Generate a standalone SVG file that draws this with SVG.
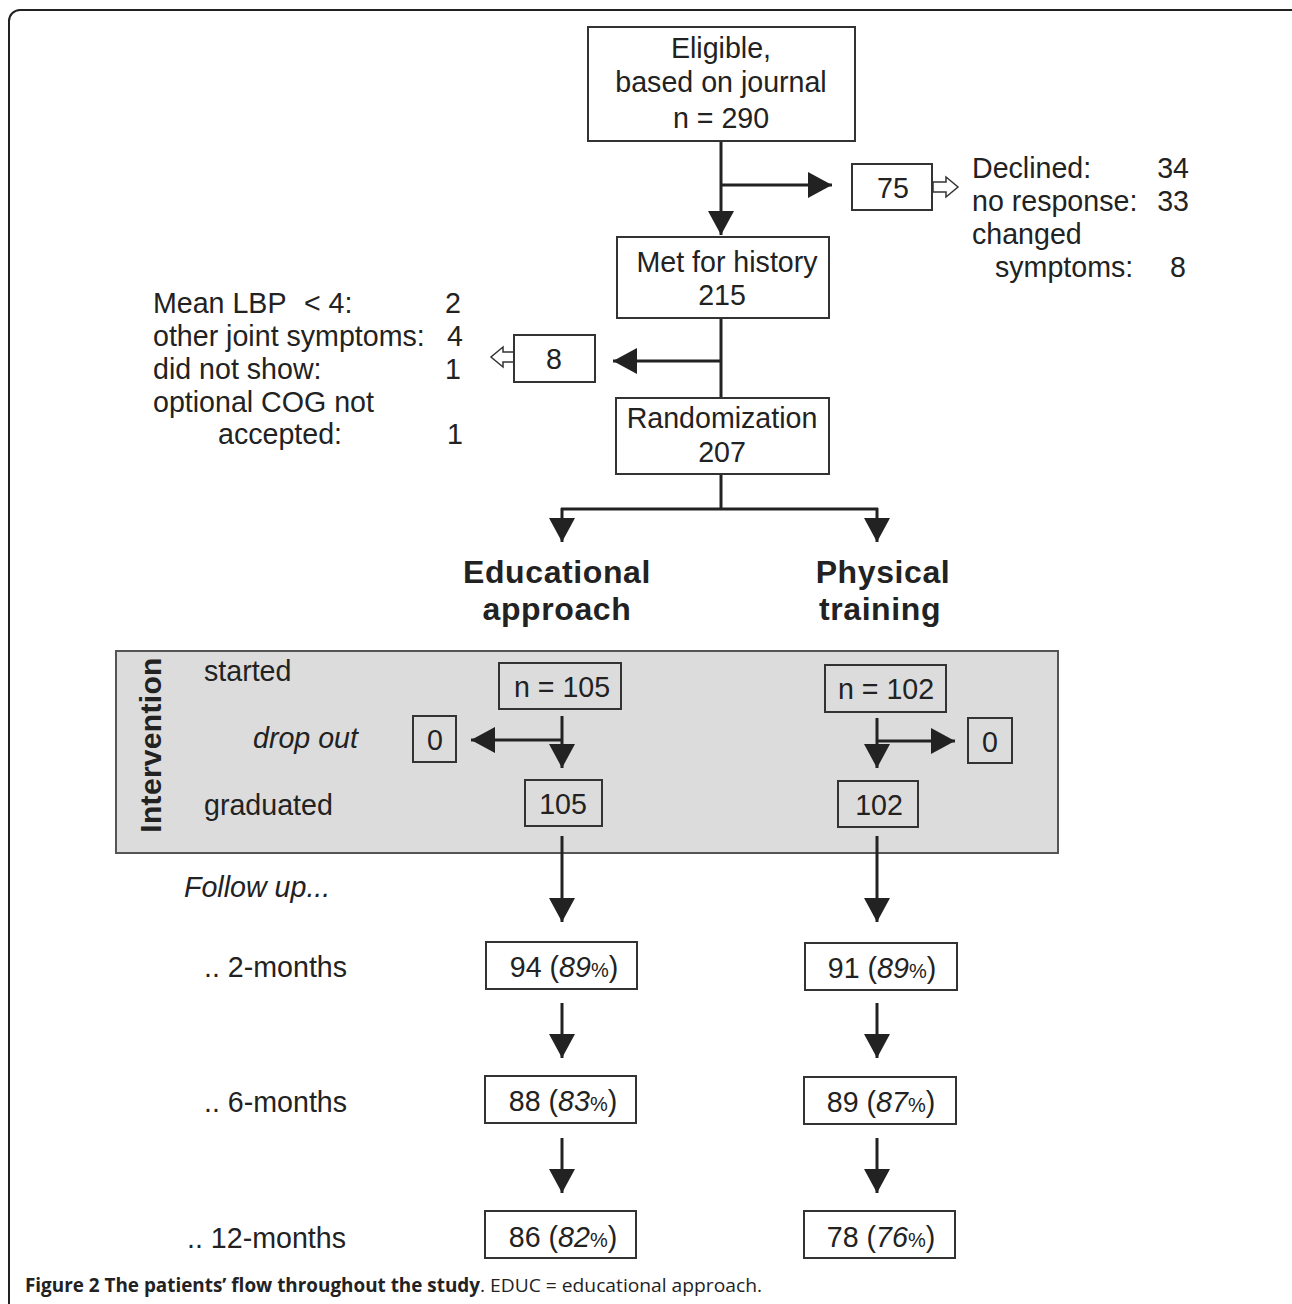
<svg xmlns="http://www.w3.org/2000/svg" width="1292" height="1304" viewBox="0 0 1292 1304">
<defs>
<marker id="ah" viewBox="0 0 24 26" refX="24" refY="13" markerWidth="24" markerHeight="26" markerUnits="userSpaceOnUse" orient="auto">
<path d="M0,0 L24,13 L0,26 z" fill="#222"/>
</marker>
</defs>
<style>
.t{font-family:"Liberation Sans",Arial,sans-serif;font-size:28.6px;fill:#222}
.m{text-anchor:middle}
.e{text-anchor:end}
.i{font-style:italic}
.b{font-family:"Liberation Sans",Arial,sans-serif;font-weight:bold;font-size:32px;fill:#222;letter-spacing:0.6px;text-anchor:middle}
.box{fill:#fff;stroke:#333;stroke-width:2}
.gbox{fill:none;stroke:#333;stroke-width:2}
.ln{fill:none;stroke:#222;stroke-width:3}
.arr{fill:none;stroke:#222;stroke-width:3;marker-end:url(#ah)}
.hol{fill:#fff;stroke:#333;stroke-width:1.5}
.pc{font-size:20px;font-style:normal}
.cap{font-family:"Open Sans","Liberation Sans",sans-serif;font-size:19px;fill:#222}
</style>
<rect x="9" y="10" width="1300" height="1320" rx="11" fill="#fff" stroke="#222" stroke-width="2"/>

<g id="panel">
<rect x="116" y="651" width="942" height="202" fill="#dcdcdc" stroke="#555" stroke-width="2"/>
<text class="b" transform="translate(161,745) rotate(-90)" style="font-size:30px;letter-spacing:0.3px">Intervention</text>
<text class="t" x="204" y="681">started</text>
<text class="t i" x="253" y="748">drop out</text>
<text class="t" x="204" y="815">graduated</text>
</g>

<g id="connectors">
<line class="arr" x1="721" y1="141" x2="721" y2="235"/>
<line class="arr" x1="721" y1="185" x2="832" y2="185"/>
<line class="ln" x1="721" y1="318" x2="721" y2="398"/>
<line class="arr" x1="721" y1="361" x2="613" y2="361"/>
<line class="ln" x1="721" y1="474" x2="721" y2="509"/>
<line class="ln" x1="561" y1="509" x2="878" y2="509"/>
<line class="arr" x1="562" y1="508" x2="562" y2="542"/>
<line class="arr" x1="877" y1="508" x2="877" y2="542"/>
<line class="arr" x1="562" y1="716" x2="562" y2="768"/>
<line class="arr" x1="562" y1="740" x2="471" y2="740"/>
<line class="arr" x1="877" y1="718" x2="877" y2="768"/>
<line class="arr" x1="877" y1="741" x2="955" y2="741"/>
<line class="arr" x1="562" y1="836" x2="562" y2="922"/>
<line class="arr" x1="877" y1="836" x2="877" y2="922"/>
<line class="arr" x1="562" y1="1003" x2="562" y2="1058"/>
<line class="arr" x1="877" y1="1003" x2="877" y2="1058"/>
<line class="arr" x1="562" y1="1138" x2="562" y2="1193"/>
<line class="arr" x1="877" y1="1138" x2="877" y2="1193"/>
<polygon class="hol" points="933,182 946,182 946,177 958,187 946,197 946,192 933,192"/>
<polygon class="hol" points="514,352 503,352 503,347 491,357 503,367 503,362 514,362"/>
</g>

<g id="eligible">
<rect class="box" x="588" y="27" width="267" height="114"/>
<text class="t m" x="721" y="58">Eligible,</text>
<text class="t m" x="721" y="92">based on journal</text>
<text class="t m" x="721" y="128">n = 290</text>
</g>

<g id="excluded75">
<rect class="box" x="852" y="164" width="80" height="46"/>
<text class="t m" x="893" y="198">75</text>
</g>

<g id="reasons75">
<text class="t" x="972" y="178">Declined:</text>
<text class="t e" x="1189" y="178">34</text>
<text class="t" x="972" y="211">no response:</text>
<text class="t e" x="1189" y="211">33</text>
<text class="t" x="972" y="244">changed</text>
<text class="t" x="995" y="277">symptoms:</text>
<text class="t e" x="1186" y="277">8</text>
</g>

<g id="history">
<rect class="box" x="617" y="237" width="212" height="81"/>
<text class="t m" x="727" y="272">Met for history</text>
<text class="t m" x="722" y="305">215</text>
</g>

<g id="excluded8">
<rect class="box" x="514" y="335" width="81" height="47"/>
<text class="t m" x="554" y="369">8</text>
</g>

<g id="reasons8">
<text class="t" x="153" y="313">Mean LBP <tspan dx="10">&lt; 4:</tspan></text>
<text class="t e" x="461" y="313">2</text>
<text class="t" x="153" y="346">other joint symptoms:</text>
<text class="t e" x="463" y="346">4</text>
<text class="t" x="153" y="379">did not show:</text>
<text class="t e" x="461" y="379">1</text>
<text class="t" x="153" y="412">optional COG not</text>
<text class="t" x="218" y="444">accepted:</text>
<text class="t e" x="463" y="444">1</text>
</g>

<g id="randomization">
<rect class="box" x="616" y="398" width="213" height="76"/>
<text class="t m" x="722" y="428">Randomization</text>
<text class="t m" x="722" y="462">207</text>
</g>

<g id="educ-head">
<text class="b" x="557" y="583">Educational</text>
<text class="b" x="557" y="620">approach</text>
</g>
<g id="phys-head">
<text class="b" x="883" y="583">Physical</text>
<text class="b" x="880" y="620">training</text>
</g>

<g id="educ-start">
<rect class="gbox" x="499" y="663" width="122" height="46"/>
<text class="t m" x="562" y="697">n = 105</text>
</g>
<g id="phys-start">
<rect class="gbox" x="825" y="665" width="121" height="47"/>
<text class="t m" x="886" y="699">n = 102</text>
</g>
<g id="educ-drop">
<rect class="gbox" x="413" y="716" width="43" height="46"/>
<text class="t m" x="435" y="750">0</text>
</g>
<g id="phys-drop">
<rect class="gbox" x="968" y="718" width="44" height="45"/>
<text class="t m" x="990" y="752">0</text>
</g>
<g id="educ-grad">
<rect class="gbox" x="525" y="780" width="77" height="46"/>
<text class="t m" x="563" y="814">105</text>
</g>
<g id="phys-grad">
<rect class="gbox" x="838" y="781" width="80" height="46"/>
<text class="t m" x="879" y="815">102</text>
</g>

<g id="followup-labels">
<text class="t i" x="184" y="897">Follow up...</text>
<text class="t" x="204" y="977">.. 2-months</text>
<text class="t" x="204" y="1112">.. 6-months</text>
<text class="t" x="187" y="1248">.. 12-months</text>
</g>

<g id="educ-2m">
<rect class="box" x="486" y="942" width="151" height="47"/>
<text class="t m" x="564" y="977">94 (<tspan class="i">89</tspan><tspan class="pc">%</tspan>)</text>
</g>
<g id="phys-2m">
<rect class="box" x="805" y="943" width="152" height="47"/>
<text class="t m" x="882" y="978">91 (<tspan class="i">89</tspan><tspan class="pc">%</tspan>)</text>
</g>
<g id="educ-6m">
<rect class="box" x="485" y="1076" width="151" height="47"/>
<text class="t m" x="563" y="1111">88 (<tspan class="i">83</tspan><tspan class="pc">%</tspan>)</text>
</g>
<g id="phys-6m">
<rect class="box" x="804" y="1077" width="152" height="47"/>
<text class="t m" x="881" y="1112">89 (<tspan class="i">87</tspan><tspan class="pc">%</tspan>)</text>
</g>
<g id="educ-12m">
<rect class="box" x="485" y="1211" width="151" height="47"/>
<text class="t m" x="563" y="1247">86 (<tspan class="i">82</tspan><tspan class="pc">%</tspan>)</text>
</g>
<g id="phys-12m">
<rect class="box" x="804" y="1211" width="151" height="47"/>
<text class="t m" x="881" y="1247">78 (<tspan class="i">76</tspan><tspan class="pc">%</tspan>)</text>
</g>

<g id="caption">
<text class="cap" x="25" y="1292" font-weight="bold" textLength="455" lengthAdjust="spacingAndGlyphs">Figure 2 The patients’ flow throughout the study</text>
<text class="cap" x="480" y="1292" textLength="282" lengthAdjust="spacingAndGlyphs">. EDUC = educational approach.</text>
</g>
</svg>
